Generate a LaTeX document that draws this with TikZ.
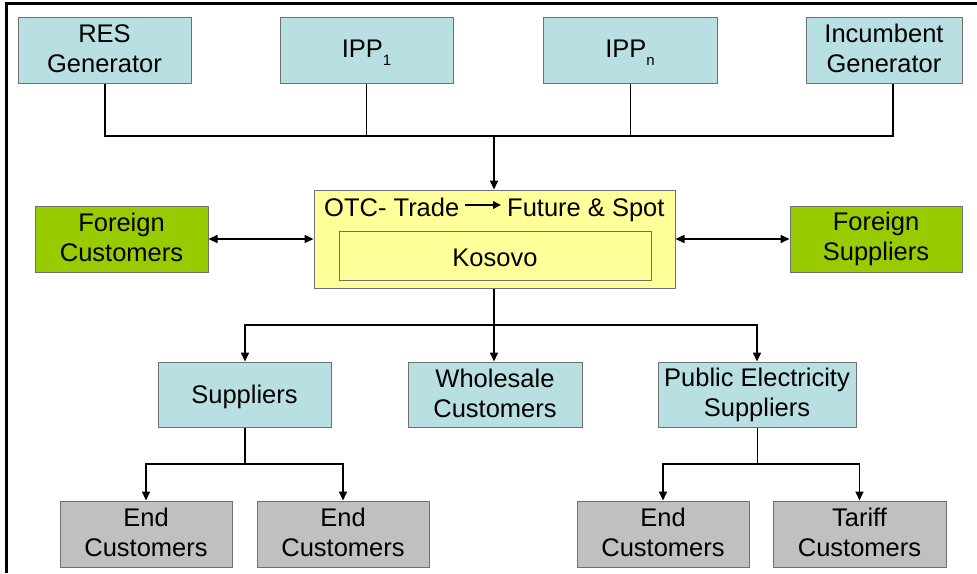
\documentclass[tikz,border=0pt]{standalone}
\usepackage{fontspec}
\setmainfont{Liberation Sans}
\usetikzlibrary{arrows.meta}
\definecolor{lblue}{HTML}{B8DFE1}
\definecolor{lgreen}{HTML}{99CC00}
\definecolor{lyellow}{HTML}{FFFF99}
\definecolor{lgray}{HTML}{C0C0C0}
\definecolor{bgray}{HTML}{707070}
\newcommand{\sbs}[1]{\raisebox{-0.3em}{\fontsize{15}{15}\selectfont #1}}
\tikzset{
  box/.style={draw=bgray, line width=1pt, rectangle, inner sep=0pt, align=center,
    font=\fontsize{25.5}{30}\selectfont,
    execute at begin node={\rule{0pt}{23.5pt}},
    execute at end node={\rule[-2.5pt]{0pt}{2.5pt}}},
  bluebox/.style={box, fill=lblue},
  greenbox/.style={box, fill=lgreen},
  graybox/.style={box, fill=lgray},
  conn/.style={line width=1.6pt},
  thinconn/.style={line width=1pt},
  arr/.style={line width=1.6pt, -{Triangle[length=9pt,width=8pt]}},
  darr/.style={line width=1.6pt, {Triangle[length=9pt,width=8pt]}-{Triangle[length=9pt,width=8pt]}},
  ttl/.style={inner sep=0pt, text height=18pt, text depth=0pt, font=\fontsize{25.5}{30}\selectfont}
}
\begin{document}
\begin{tikzpicture}[x=1pt,y=-1pt]
\useasboundingbox (0,0) rectangle (977,573);
\fill[white] (0,0) rectangle (977,573);
% frame
\draw[line width=3pt] (977,3.5) -- (6.5,3.5) -- (6.5,573);

% top row
\node[bluebox, minimum width=173pt, minimum height=66pt] (res) at (104.5,50) {RES\\Generator};
\node[bluebox, minimum width=173pt, minimum height=66pt] (ipp1) at (366.5,50) {IPP\sbs{1}};
\node[bluebox, minimum width=174pt, minimum height=66pt] (ippn) at (630,50) {IPP\sbs{n}};
\node[bluebox, minimum width=156pt, minimum height=66pt] (inc) at (884,50) {Incumbent\\Generator};

% center
\node[box, fill=lyellow, minimum width=361pt, minimum height=98pt] (otc) at (494.5,239) {};
\node[box, fill=lyellow, minimum width=312pt, minimum height=49pt] (kos) at (495,255.5) {Kosovo};
\node[ttl, anchor=base west] (t1) at (324,216) {OTC- Trade};
\node[ttl, anchor=base west] (t2) at (507,216) {Future \& Spot};
\draw[line width=1.8pt, -{Triangle[length=8pt,width=7.5pt]}, shorten <=6pt, shorten >=6pt] ([yshift=2pt]t1.east) -- ([yshift=2pt]t2.west);

% foreign
\node[greenbox, minimum width=173pt, minimum height=66pt] (fc) at (121.5,239) {Foreign\\Customers};
\node[greenbox, minimum width=172pt, minimum height=66pt] (fs) at (876,239) {Foreign\\Suppliers};

% middle row
\node[bluebox, minimum width=173pt, minimum height=65pt] (sup) at (244.5,394.5) {Suppliers};
\node[bluebox, minimum width=174pt, minimum height=65pt] (whs) at (495,394.5) {Wholesale\\Customers};
\node[bluebox, minimum width=198pt, minimum height=65pt] (pes) at (757,394.5) {Public Electricity\\Suppliers};

% bottom row
\node[graybox, minimum width=172pt, minimum height=66pt] (ec1) at (146,534) {End\\Customers};
\node[graybox, minimum width=172pt, minimum height=66pt] (ec2) at (343,534) {End\\Customers};
\node[graybox, minimum width=172pt, minimum height=66pt] (ec3) at (663,534) {End\\Customers};
\node[graybox, minimum width=173pt, minimum height=66pt] (tar) at (859.5,534) {Tariff\\Customers};

% coordinates
\coordinate (busl) at (105,136);
\coordinate (busr) at (893,136);
\coordinate (busc) at (494,136);
\coordinate (midc) at (494,325);
\coordinate (supj) at (245,464);
\coordinate (pesj) at (757,464);

% top bus
\draw[conn] (res.south -| busl) -- (busl) -- (busr) -- (inc.south -| busr);
\draw[thinconn] (ipp1.south) -- (ipp1.south |- busl);
\draw[thinconn] (ippn.south) -- (ippn.south |- busl);
\draw[arr] (busc) -- (otc.north -| busc);

% foreign arrows
\draw[darr] (fc.east) -- (otc.west);
\draw[darr] (otc.east) -- (fs.west);

% to middle row
\draw[conn] (otc.south -| midc) -- (midc);
\draw[arr] (midc) -| (sup.north -| supj);
\draw[arr] (midc) -- (whs.north -| midc);
\draw[arr] (midc) -| (pes.north);

% suppliers split
\draw[conn] (sup.south -| supj) -- (supj);
\draw[arr] (supj) -| (ec1.north);
\draw[arr] (supj) -| (ec2.north);
\draw[thinconn] (pes.south) -- (pesj);
\draw[arr] (pesj) -| (ec3.north);
\draw[arr] (pesj) -| (tar.north);
\end{tikzpicture}
\end{document}
